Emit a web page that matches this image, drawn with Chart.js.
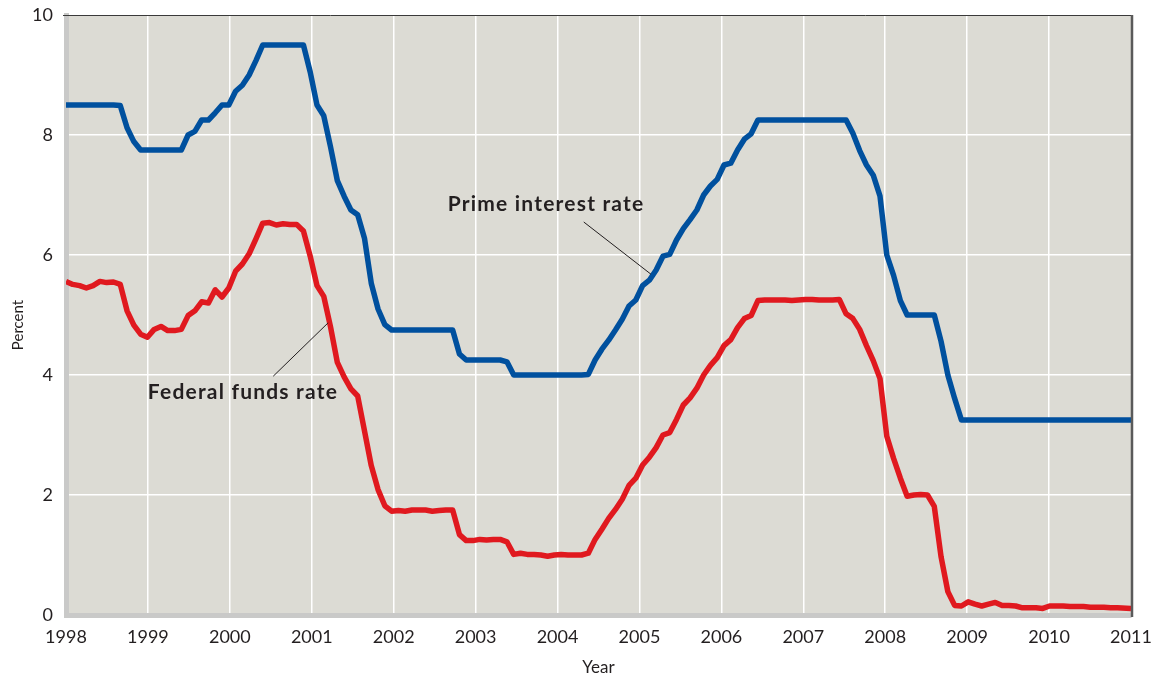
<!DOCTYPE html>
<html>
<head>
<meta charset="utf-8">
<title>Prime interest rate and federal funds rate, 1998–2011</title>
<script src="https://cdn.jsdelivr.net/npm/chart.js@4.4.1/dist/chart.umd.min.js"></script>
<style>
  html, body { margin: 0; padding: 0; background: #ffffff; }
  #wrap { width: 1153px; height: 679px; }
</style>
</head>
<body>
<div id="wrap"><canvas id="rates" width="1153" height="679"></canvas></div>
<script>
// Axis range and tick labels
const firstYear = 1998;
const lastYear = 2011;
const yearTicks = [1998, 1999, 2000, 2001, 2002, 2003, 2004, 2005, 2006, 2007, 2008, 2009, 2010, 2011];
const percentTicks = [0, 2, 4, 6, 8, 10];

// Monthly prime interest rate, Jan 1998 – Jan 2011 (percent)
const primeRate = [
  8.50, 8.50, 8.50, 8.50, 8.50, 8.50, 8.50, 8.50, 8.49, 8.12, 7.89, 7.75,
  7.75, 7.75, 7.75, 7.75, 7.75, 7.75, 8.00, 8.06, 8.25, 8.25, 8.37, 8.50,
  8.50, 8.73, 8.83, 9.00, 9.24, 9.50, 9.50, 9.50, 9.50, 9.50, 9.50, 9.50,
  9.05, 8.50, 8.32, 7.80, 7.24, 6.98, 6.75, 6.67, 6.28, 5.53, 5.10, 4.84,
  4.75, 4.75, 4.75, 4.75, 4.75, 4.75, 4.75, 4.75, 4.75, 4.75, 4.35, 4.25,
  4.25, 4.25, 4.25, 4.25, 4.25, 4.22, 4.00, 4.00, 4.00, 4.00, 4.00, 4.00,
  4.00, 4.00, 4.00, 4.00, 4.00, 4.01, 4.25, 4.43, 4.58, 4.75, 4.93, 5.15,
  5.25, 5.49, 5.58, 5.75, 5.98, 6.01, 6.25, 6.44, 6.59, 6.75, 7.00, 7.15,
  7.26, 7.50, 7.53, 7.75, 7.93, 8.02, 8.25, 8.25, 8.25, 8.25, 8.25, 8.25,
  8.25, 8.25, 8.25, 8.25, 8.25, 8.25, 8.25, 8.25, 8.03, 7.74, 7.50, 7.33,
  6.98, 6.00, 5.66, 5.24, 5.00, 5.00, 5.00, 5.00, 5.00, 4.56, 4.00, 3.61,
  3.25, 3.25, 3.25, 3.25, 3.25, 3.25, 3.25, 3.25, 3.25, 3.25, 3.25, 3.25,
  3.25, 3.25, 3.25, 3.25, 3.25, 3.25, 3.25, 3.25, 3.25, 3.25, 3.25, 3.25,
  3.25
];

// Monthly effective federal funds rate, Jan 1998 – Jan 2011 (percent)
const fedFundsRate = [
  5.56, 5.51, 5.49, 5.45, 5.49, 5.56, 5.54, 5.55, 5.51, 5.07, 4.83, 4.68,
  4.63, 4.76, 4.81, 4.74, 4.74, 4.76, 4.99, 5.07, 5.22, 5.20, 5.42, 5.30,
  5.45, 5.73, 5.85, 6.02, 6.27, 6.53, 6.54, 6.50, 6.52, 6.51, 6.51, 6.40,
  5.98, 5.49, 5.31, 4.80, 4.21, 3.97, 3.77, 3.65, 3.07, 2.49, 2.09, 1.82,
  1.73, 1.74, 1.73, 1.75, 1.75, 1.75, 1.73, 1.74, 1.75, 1.75, 1.34, 1.24,
  1.24, 1.26, 1.25, 1.26, 1.26, 1.22, 1.01, 1.03, 1.01, 1.01, 1.00, 0.98,
  1.00, 1.01, 1.00, 1.00, 1.00, 1.03, 1.26, 1.43, 1.61, 1.76, 1.93, 2.16,
  2.28, 2.50, 2.63, 2.79, 3.00, 3.04, 3.26, 3.50, 3.62, 3.78, 4.00, 4.16,
  4.29, 4.49, 4.59, 4.79, 4.94, 4.99, 5.24, 5.25, 5.25, 5.25, 5.25, 5.24,
  5.25, 5.26, 5.26, 5.25, 5.25, 5.25, 5.26, 5.02, 4.94, 4.76, 4.49, 4.24,
  3.94, 2.98, 2.61, 2.28, 1.98, 2.00, 2.01, 2.00, 1.81, 0.97, 0.39, 0.16,
  0.15, 0.22, 0.18, 0.15, 0.18, 0.21, 0.16, 0.16, 0.15, 0.12, 0.12, 0.12,
  0.11, 0.15, 0.15, 0.15, 0.14, 0.14, 0.14, 0.13, 0.13, 0.13, 0.12, 0.12,
  0.11
];

// Series labels written beside the lines, with their leader lines (data coordinates)
const seriesLabels = [
  { text: 'Prime interest rate', x: 2003.86, y: 6.85, from: [2004.32, 6.55], to: [2005.14, 5.68] },
  { text: 'Federal funds rate',  x: 2000.16, y: 3.72, from: [2000.53, 3.98], to: [2001.20, 4.87] }
];

// Observations are spaced evenly across the time axis; the last one closes the axis
const spacing = (lastYear - firstYear) / primeRate.length;
const toPoints = values => values.map((v, i) => ({
  x: i === values.length - 1 ? lastYear : firstYear + i * spacing,
  y: v
}));

const TEXT = '#231f20';
const FONT = 'Lato, "Open Sans", "DejaVu Sans", sans-serif';

const frame = {
  id: 'frame',
  beforeDraw(chart) {
    const { ctx, chartArea: a } = chart;
    ctx.save();
    ctx.fillStyle = '#dcdbd4';
    ctx.fillRect(a.left, a.top, a.right - a.left, a.bottom - a.top);
    ctx.restore();
  },
  afterDatasetsDraw(chart) {
    const { ctx, chartArea: a, scales } = chart;
    ctx.save();
    // top rule
    ctx.strokeStyle = '#3a3a3a';
    ctx.lineWidth = 1;
    ctx.beginPath();
    ctx.moveTo(a.left - 3, a.top + 0.5);
    ctx.lineTo(a.right + 2, a.top + 0.5);
    ctx.stroke();
    // right rule
    ctx.strokeStyle = '#5a5a5a';
    ctx.lineWidth = 2.5;
    ctx.beginPath();
    ctx.moveTo(a.right + 1, a.top);
    ctx.lineTo(a.right + 1, a.bottom + 2);
    ctx.stroke();

    // series labels and leader lines
    ctx.fillStyle = TEXT;
    ctx.font = 'bold 21px ' + FONT;
    ctx.textAlign = 'center';
    ctx.textBaseline = 'middle';
    if ('letterSpacing' in ctx) ctx.letterSpacing = '1.2px';
    seriesLabels.forEach(l => {
      ctx.fillText(l.text, scales.x.getPixelForValue(l.x), scales.y.getPixelForValue(l.y));
      ctx.strokeStyle = '#231f20';
      ctx.lineWidth = 1;
      ctx.beginPath();
      ctx.moveTo(scales.x.getPixelForValue(l.from[0]), scales.y.getPixelForValue(l.from[1]));
      ctx.lineTo(scales.x.getPixelForValue(l.to[0]), scales.y.getPixelForValue(l.to[1]));
      ctx.stroke();
    });
    if ('letterSpacing' in ctx) ctx.letterSpacing = '0px';

    // axis titles
    ctx.font = '17px ' + FONT;
    ctx.fillText('Year', (a.left + a.right) / 2, 668);
    ctx.translate(18, 325);
    ctx.rotate(-Math.PI / 2);
    ctx.font = '15px ' + FONT;
    ctx.fillText('Percent', 0, 0);
    ctx.restore();
  }
};

const noPadding = s => {
  s.paddingLeft = 0; s.paddingRight = 0; s.paddingTop = 0; s.paddingBottom = 0;
};

new Chart(document.getElementById('rates'), {
  type: 'line',
  data: {
    datasets: [
      {
        label: 'Prime interest rate',
        data: toPoints(primeRate),
        borderColor: '#00509e',
        borderWidth: 5.5,
        pointRadius: 0,
        tension: 0,
        borderJoinStyle: 'round',
        borderCapStyle: 'butt'
      },
      {
        label: 'Federal funds rate',
        data: toPoints(fedFundsRate),
        borderColor: '#e0191f',
        borderWidth: 5.5,
        pointRadius: 0,
        tension: 0,
        borderJoinStyle: 'round',
        borderCapStyle: 'butt'
      }
    ]
  },
  options: {
    responsive: false,
    animation: false,
    devicePixelRatio: 1,
    layout: { padding: { top: 15, right: 22, left: 0, bottom: 0 } },
    plugins: {
      legend: { display: false },
      tooltip: { enabled: false }
    },
    scales: {
      x: {
        type: 'linear',
        min: firstYear,
        max: lastYear,
        afterBuildTicks: s => { s.ticks = yearTicks.map(v => ({ value: v })); },
        afterFit: s => { s.height = 64; noPadding(s); },
        ticks: {
          color: TEXT,
          font: { family: FONT, size: 18 },
          padding: 11,
          maxRotation: 0,
          autoSkip: false,
          callback: v => String(v)
        },
        grid: {
          drawTicks: false,
          lineWidth: 1.5,
          color: c => (c.tick && (c.tick.value === firstYear || c.tick.value === lastYear)) ? 'rgba(0,0,0,0)' : '#ffffff'
        },
        border: { display: true, color: '#c9c9c8', width: 5 }
      },
      y: {
        type: 'linear',
        min: 0,
        max: 10,
        afterBuildTicks: s => { s.ticks = percentTicks.map(v => ({ value: v })); },
        afterFit: s => { s.width = 66; noPadding(s); },
        ticks: {
          color: TEXT,
          font: { family: FONT, size: 18 },
          padding: 13,
          callback: v => String(v)
        },
        grid: {
          drawTicks: false,
          lineWidth: 1.5,
          color: c => (c.tick && (c.tick.value === 0 || c.tick.value === 10)) ? 'rgba(0,0,0,0)' : '#ffffff'
        },
        border: { display: true, color: '#c9c9c8', width: 5 }
      }
    }
  },
  plugins: [frame]
});
</script>
</body>
</html>
